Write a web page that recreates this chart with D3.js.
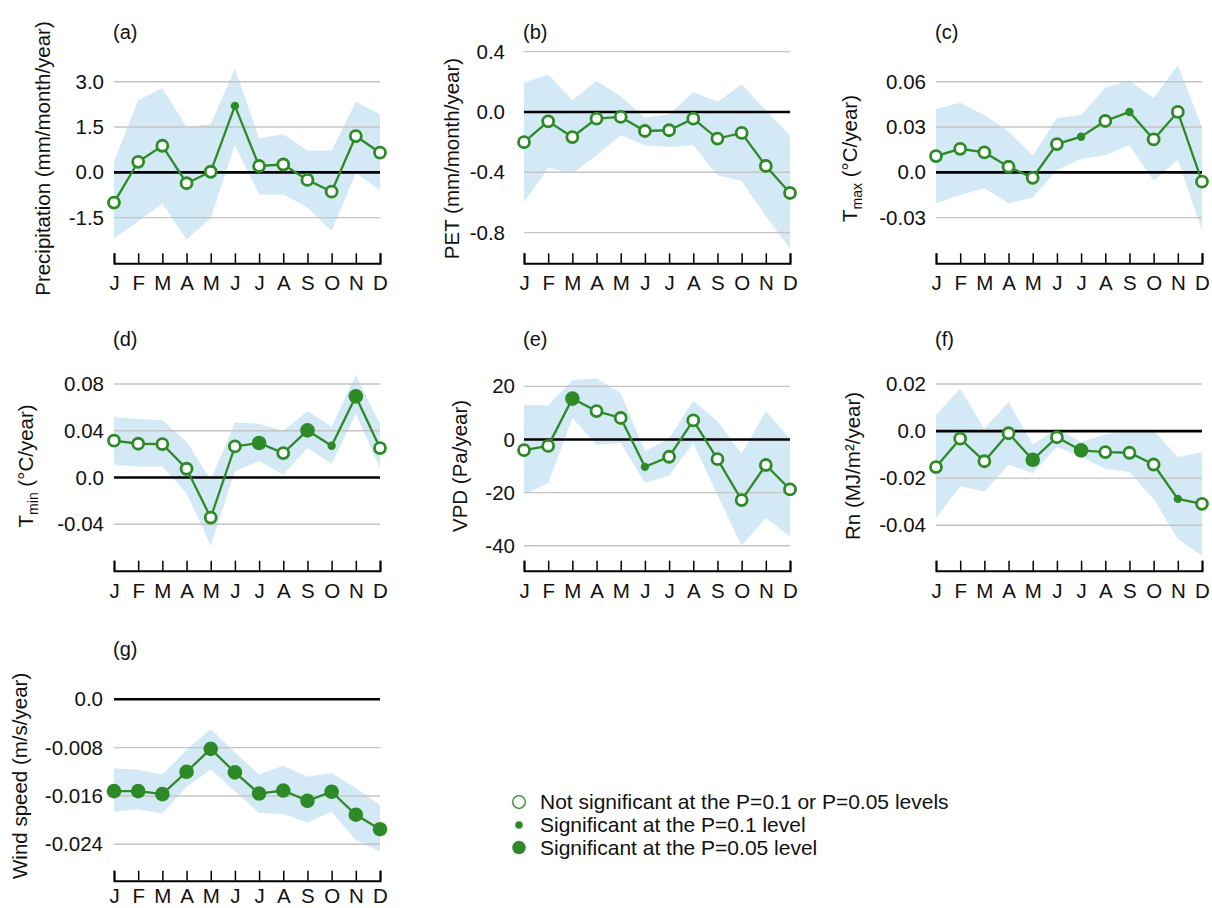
<!DOCTYPE html>
<html>
<head>
<meta charset="utf-8">
<script src="https://cdn.jsdelivr.net/npm/d3@7"></script>
<style>
  html, body { margin: 0; padding: 0; background: #fff; }
  svg { display: block; font-family: "Liberation Sans", Arial, sans-serif; }
</style>
</head>
<body>
<svg id="chart" width="1212" height="908"></svg>
<script>
// ---------------- DATA ----------------
const months = ["J","F","M","A","M","J","J","A","S","O","N","D"];
// significance: 0 = not significant, 1 = P=0.1, 2 = P=0.05

const precipValues = [-1.0, 0.35, 0.88, -0.36, 0.02, 2.2, 0.21, 0.26, -0.25, -0.64, 1.2, 0.65];
const precipUpper  = [0.35, 2.39, 2.78, 1.51, 1.59, 3.44, 1.13, 1.26, 0.72, 0.72, 2.34, 1.92];
const precipLower  = [-2.18, -1.63, -1.03, -2.22, -1.52, 0.9, -0.73, -0.73, -1.16, -1.93, -0.03, -0.59];
const precipSig    = [0,0,0,0,0,1,0,0,0,0,0,0];
const precipTicks  = [-1.5, 0, 1.5, 3.0];
const precipTickLabels = ["-1.5","0.0","1.5","3.0"];
const precipDomain = [-2.58, 4.04];

const petValues = [-0.2, -0.062, -0.166, -0.044, -0.033, -0.126, -0.121, -0.044, -0.176, -0.139, -0.358, -0.537];
const petUpper  = [0.195, 0.248, 0.078, 0.206, 0.104, -0.037, -0.017, 0.133, 0.066, 0.184, 0.011, -0.155];
const petLower  = [-0.597, -0.371, -0.408, -0.287, -0.155, -0.221, -0.232, -0.221, -0.42, -0.46, -0.69, -0.906];
const petSig    = [0,0,0,0,0,0,0,0,0,0,0,0];
const petTicks  = [-0.8, -0.4, 0, 0.4];
const petTickLabels = ["-0.8","-0.4","0.0","0.4"];
const petDomain = [-0.917, 0.409];

const tmaxValues = [0.0108, 0.0156, 0.0132, 0.0037, -0.0036, 0.0187, 0.0236, 0.034, 0.040, 0.0218, 0.040, -0.0062];
const tmaxUpper  = [0.042, 0.046, 0.038, 0.027, 0.011, 0.036, 0.038, 0.056, 0.061, 0.049, 0.071, 0.030];
const tmaxLower  = [-0.0205, -0.015, -0.0106, -0.0205, -0.0166, 0.0015, 0.0088, 0.0115, 0.018, -0.0056, 0.0081, -0.0387];
const tmaxSig    = [0,0,0,0,0,0,1,0,1,0,0,0];
const tmaxTicks  = [-0.03, 0, 0.03, 0.06];
const tmaxTickLabels = ["-0.03","0.0","0.03","0.06"];
const tmaxDomain = [-0.0516, 0.0808];

const tminValues = [0.0315, 0.0289, 0.0286, 0.0075, -0.0343, 0.0266, 0.0295, 0.0209, 0.0403, 0.0272, 0.0694, 0.0252];
const tminUpper  = [0.0518, 0.050, 0.0489, 0.0309, -0.002, 0.047, 0.046, 0.040, 0.0566, 0.0437, 0.088, 0.0458];
const tminLower  = [0.0109, 0.0094, 0.0094, -0.0134, -0.0585, 0.0051, 0.0143, 0.0023, 0.0252, 0.0117, 0.0546, 0.008];
const tminSig    = [0,0,0,0,0,0,2,0,2,1,2,0];
const tminTicks  = [-0.04, 0, 0.04, 0.08];
const tminTickLabels = ["-0.04","0.0","0.04","0.08"];
const tminDomain = [-0.0686, 0.1025];

const vpdValues = [-4.0, -2.4, 15.4, 10.7, 8.1, -10.3, -6.5, 7.2, -7.4, -22.8, -9.6, -18.8];
const vpdUpper  = [13.1, 12.9, 22.3, 23.1, 17.5, -4.4, 0.4, 14.7, 6.9, -5.3, 10.6, 0.4];
const vpdLower  = [-20.6, -16.5, 8.1, -2.1, -1.3, -16.3, -13.6, -1.3, -20.9, -40, -29.6, -36.5];
const vpdSig    = [0,0,2,0,0,1,0,0,0,0,0,0];
const vpdTicks  = [-40, -20, 0, 20];
const vpdTickLabels = ["-40","-20","0","20"];
const vpdDomain = [-44.5, 30.8];

const rnValues = [-0.0153, -0.0032, -0.0128, -0.0009, -0.0122, -0.0026, -0.0082, -0.0089, -0.0092, -0.0142, -0.0288, -0.0309];
const rnUpper  = [0.007, 0.018, 0.001, 0.0124, -0.0057, 0.001, -0.0045, -0.0014, 0.0003, 0.0003, -0.011, -0.009];
const rnLower  = [-0.037, -0.0234, -0.0257, -0.0143, -0.0179, -0.0068, -0.011, -0.016, -0.0174, -0.0288, -0.0458, -0.053];
const rnSig    = [0,0,0,0,2,0,2,0,0,0,1,0];
const rnTicks  = [-0.04, -0.02, 0, 0.02];
const rnTickLabels = ["-0.04","-0.02","0.0","0.02"];
const rnDomain = [-0.0538, 0.0312];

const windValues = [-0.0152, -0.0152, -0.0157, -0.012, -0.0082, -0.0121, -0.0156, -0.0151, -0.0168, -0.0153, -0.0191, -0.0215];
const windUpper  = [-0.0114, -0.0117, -0.0124, -0.0084, -0.0049, -0.0088, -0.0124, -0.011, -0.0128, -0.0122, -0.0147, -0.0175];
const windLower  = [-0.0186, -0.0182, -0.0189, -0.0145, -0.0116, -0.0152, -0.0188, -0.019, -0.0204, -0.0186, -0.0233, -0.0252];
const windSig    = [2,2,2,2,2,2,2,2,2,2,2,2];
const windTicks  = [-0.024, -0.016, -0.008, 0];
const windTickLabels = ["-0.024","-0.016","-0.008","0.0"];
const windDomain = [-0.02787, 0.00523];

const legendLabels = [
  "Not significant at the P=0.1 or P=0.05 levels",
  "Significant at the P=0.1 level",
  "Significant at the P=0.05 level"
];

// ---------------- LAYOUT ----------------
const colLeft = [114, 524, 936];
const plotWidth = 266;
const rowAxisY = [263.3, 570.7, 880.7];
const rowMonthPad = [12.4, 12.4, 8.2];
const GREEN = "#2d8a27";
const BAND = "#d3eaf6";
const GRID = "#c4c4c4";
const TEXT = "#111";
const FONT = 20.5;

const panels = [
  {tag:"(a)", row:0, col:0, v:precipValues, up:precipUpper, lo:precipLower, sig:precipSig, ticks:precipTicks, labels:precipTickLabels, dom:precipDomain, title:[{t:"Precipitation (mm/month/year)"}], titleX:-64, pad:10},
  {tag:"(b)", row:0, col:1, v:petValues, up:petUpper, lo:petLower, sig:petSig, ticks:petTicks, labels:petTickLabels, dom:petDomain, title:[{t:"PET (mm/month/year)"}], titleX:-65, pad:19},
  {tag:"(c)", row:0, col:2, v:tmaxValues, up:tmaxUpper, lo:tmaxLower, sig:tmaxSig, ticks:tmaxTicks, labels:tmaxTickLabels, dom:tmaxDomain, title:[{t:"T"},{t:"max",sub:true},{t:" (°C/year)"}], titleX:-79, pad:10},
  {tag:"(d)", row:1, col:0, v:tminValues, up:tminUpper, lo:tminLower, sig:tminSig, ticks:tminTicks, labels:tminTickLabels, dom:tminDomain, title:[{t:"T"},{t:"min",sub:true},{t:" (°C/year)"}], titleX:-81, pad:10},
  {tag:"(e)", row:1, col:1, v:vpdValues, up:vpdUpper, lo:vpdLower, sig:vpdSig, ticks:vpdTicks, labels:vpdTickLabels, dom:vpdDomain, title:[{t:"VPD (Pa/year)"}], titleX:-57, pad:9},
  {tag:"(f)", row:1, col:2, v:rnValues, up:rnUpper, lo:rnLower, sig:rnSig, ticks:rnTicks, labels:rnTickLabels, dom:rnDomain, title:[{t:"Rn (MJ/m²/year)"}], titleX:-76, pad:10},
  {tag:"(g)", row:2, col:0, v:windValues, up:windUpper, lo:windLower, sig:windSig, ticks:windTicks, labels:windTickLabels, dom:windDomain, title:[{t:"Wind speed (m/s/year)"}], titleX:-87, pad:11}
];

const svg = d3.select("#chart");

function drawMarker(sel, s) {
  if (s === 0) sel.attr("r", 5.5).attr("fill", "#fff").attr("stroke", GREEN).attr("stroke-width", 2.8);
  else if (s === 1) sel.attr("r", 4.2).attr("fill", GREEN).attr("stroke", "none");
  else sel.attr("r", 7.3).attr("fill", GREEN).attr("stroke", "none");
}

panels.forEach(p => {
  const left = colLeft[p.col];
  const right = left + plotWidth;
  const axisY = rowAxisY[p.row];
  const g = svg.append("g");

  const x = d3.scalePoint().domain(d3.range(12)).range([left, right]).padding(0);
  const y = d3.scaleLinear().domain(p.dom).range([axisY - 13, axisY - 213]);

  // band
  g.append("path")
    .datum(d3.range(12))
    .attr("fill", BAND)
    .attr("d", d3.area().x(i => x(i)).y0(i => y(p.lo[i])).y1(i => y(p.up[i])));

  // grid lines
  g.selectAll("line.grid")
    .data(p.ticks.filter(t => t !== 0))
    .enter().append("line")
    .attr("x1", left).attr("x2", right)
    .attr("y1", d => y(d)).attr("y2", d => y(d))
    .attr("stroke", GRID).attr("stroke-width", 1.4);

  // zero line
  g.append("line")
    .attr("x1", left).attr("x2", right)
    .attr("y1", y(0)).attr("y2", y(0))
    .attr("stroke", "#000").attr("stroke-width", 2.6);

  // y tick labels
  const yAxis = d3.axisLeft(y).tickValues(p.ticks).tickSize(0).tickPadding(p.pad)
    .tickFormat((d, i) => p.labels[i]);
  const ya = g.append("g").attr("transform", `translate(${left},0)`).call(yAxis);
  ya.select(".domain").remove();
  ya.selectAll("text").attr("font-size", FONT).attr("fill", TEXT)
    .attr("font-family", "Liberation Sans, Arial, sans-serif");

  // x axis
  const xAxis = d3.axisBottom(x).tickSize(-10).tickSizeOuter(-10).tickPadding(rowMonthPad[p.row])
    .tickFormat(i => months[i]);
  const xa = g.append("g").attr("transform", `translate(0,${axisY})`).call(xAxis);
  xa.select(".domain").attr("stroke", "#000").attr("stroke-width", 2);
  xa.selectAll(".tick line").attr("stroke", "#000").attr("stroke-width", 1.5);
  xa.selectAll("text").attr("font-size", FONT).attr("fill", TEXT)
    .attr("font-family", "Liberation Sans, Arial, sans-serif");

  // series line
  g.append("path")
    .datum(d3.range(12))
    .attr("fill", "none").attr("stroke", GREEN).attr("stroke-width", 2.3)
    .attr("d", d3.line().x(i => x(i)).y(i => y(p.v[i])));

  // markers
  d3.range(12).forEach(i => {
    g.append("circle").attr("cx", x(i)).attr("cy", y(p.v[i])).call(drawMarker, p.sig[i]);
  });

  // panel tag
  g.append("text").attr("x", left - 1).attr("y", axisY - 224.5)
    .attr("font-size", 20).attr("fill", TEXT).text(p.tag);

  // y axis title
  const tt = g.append("text")
    .attr("transform", `translate(${left + p.titleX},${axisY - 104.8}) rotate(-90)`)
    .attr("text-anchor", "middle").attr("font-size", FONT).attr("fill", TEXT);
  p.title.forEach(part => {
    const ts = tt.append("tspan").text(part.t);
    if (part.sub) ts.attr("font-size", 14).attr("dy", 5);
    else if (tt.selectAll("tspan").size() > 1) ts.attr("dy", -5);
  });
});

// legend
const legX = 519, legY = [802, 825, 847.5];
const leg = svg.append("g");
legendLabels.forEach((lab, i) => {
  const c = leg.append("circle").attr("cx", legX).attr("cy", legY[i]);
  if (i === 0) c.attr("r", 6.3).attr("fill", "#fff").attr("stroke", GREEN).attr("stroke-width", 1.3);
  else if (i === 1) c.attr("r", 3.8).attr("fill", GREEN);
  else c.attr("r", 6.8).attr("fill", GREEN);
  leg.append("text").attr("x", 540).attr("y", legY[i] + 7.3)
    .attr("font-size", 21).attr("fill", TEXT).text(lab);
});
</script>
</body>
</html>
